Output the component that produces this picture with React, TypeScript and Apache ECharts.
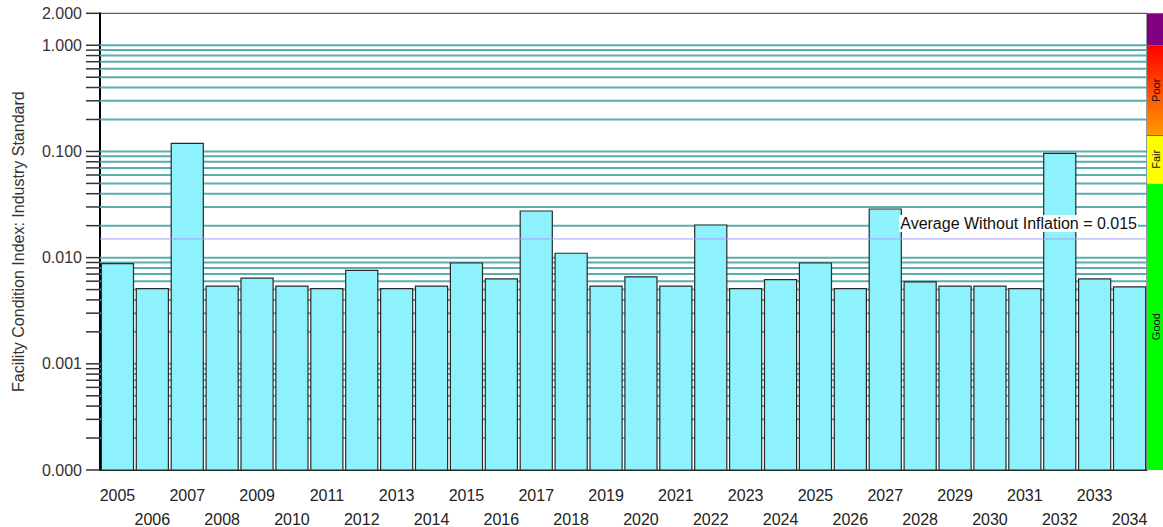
import React, { useEffect, useRef } from 'react';
import * as echarts from 'echarts';

const years = ['2005', '2006', '2007', '2008', '2009', '2010', '2011', '2012', '2013', '2014', '2015', '2016', '2017', '2018', '2019', '2020', '2021', '2022', '2023', '2024', '2025', '2026', '2027', '2028', '2029', '2030', '2031', '2032', '2033', '2034'];
const fciValues = [0.0088, 0.0051, 0.119, 0.0054, 0.0064, 0.0054, 0.0051, 0.0076, 0.0051, 0.0054, 0.0089, 0.0063, 0.0275, 0.011, 0.0054, 0.0066, 0.0054, 0.0203, 0.0051, 0.0062, 0.0089, 0.0051, 0.0287, 0.0059, 0.0054, 0.0054, 0.0051, 0.096, 0.0063, 0.0053];
const averageWithoutInflation = 0.015;
const averageLabel = 'Average Without Inflation = 0.015';
const yMin = 0.0001;
const yMax = 2;
const tickValues = [
  0.0001, 0.0002, 0.0003, 0.0004, 0.0005, 0.0006, 0.0007, 0.0008, 0.0009,
  0.001, 0.002, 0.003, 0.004, 0.005, 0.006, 0.007, 0.008, 0.009,
  0.01, 0.02, 0.03, 0.04, 0.05, 0.06, 0.07, 0.08, 0.09,
  0.1, 0.2, 0.3, 0.4, 0.5, 0.6, 0.7, 0.8, 0.9,
  1, 2,
];
const bandNames = ['Good', 'Fair', 'Poor', ''];
const bandLow = [0.0001, 0.05, 0.142, 1];
const bandHigh = [0.05, 0.142, 1, 2];

const FONT = '"Liberation Sans", Arial, sans-serif';

export default function App() {
  const ref = useRef<HTMLDivElement>(null);
  useEffect(() => {
    if (!ref.current) return;
    const chart = echarts.init(ref.current, null, { renderer: 'svg' });
    const bandFills: any[] = [
      '#00ff00',
      '#ffff00',
      new echarts.graphic.LinearGradient(0, 0, 0, 1, [
        { offset: 0, color: '#ff0000' },
        { offset: 1, color: '#ff9a00' },
      ]),
      '#800080',
    ];
    const option: any = {
      animation: false,
      backgroundColor: '#ffffff',
      textStyle: { fontFamily: FONT },
      grid: [
        { left: 100, right: 16, top: 13.3, bottom: 57, outerBoundsMode: 'none', containLabel: false, show: true, borderColor: '#333', borderWidth: 1, backgroundColor: 'transparent' },
        { left: 1147, width: 16, top: 13.3, bottom: 57, outerBoundsMode: 'none', containLabel: false, show: false },
      ],
      xAxis: [
        {
          type: 'category',
          gridIndex: 0,
          data: years,
          axisTick: { show: false },
          axisLine: { show: true, lineStyle: { color: '#222', width: 1 } },
          axisLabel: {
            interval: 0,
            color: '#222',
            fontSize: 16,
            fontFamily: FONT,
            lineHeight: 24,
            margin: 13,
            formatter: (v: string, i: number) => (i % 2 === 0 ? v : '\n' + v),
          },
          splitLine: { show: false },
        },
        { type: 'category', gridIndex: 1, data: ['band'], show: false },
      ],
      yAxis: [
        {
          type: 'log',
          gridIndex: 0,
          logBase: 10,
          min: yMin,
          max: yMax,
          name: 'Facility Condition Index: Industry Standard',
          nameLocation: 'middle',
          nameGap: 74,
          nameTextStyle: { fontSize: 16, color: '#333', fontFamily: FONT },
          axisLine: { show: true, lineStyle: { color: '#000', width: 2 } },
          axisTick: { show: false },
          splitLine: { show: false },
          axisLabel: {
            color: '#333',
            fontSize: 16,
            fontFamily: FONT,
            margin: 18,
            showMaxLabel: true,
            showMinLabel: true,
            formatter: (v: number) => Number(v).toFixed(3),
          },
        },
        { type: 'log', gridIndex: 1, min: yMin, max: yMax, show: false },
      ],
      series: [
        {
          type: 'custom',
          name: 'grid',
          xAxisIndex: 0,
          yAxisIndex: 0,
          z: 1,
          silent: true,
          clip: false,
          encode: { x: 0, y: 1 },
          data: tickValues.map((v) => [0, v]),
          renderItem: (params: any, api: any) => {
            const cs = params.coordSys;
            const v = api.value(1);
            const y = api.coord([0, v])[1];
            const children: any[] = [];
            if (v > yMin && v < yMax) {
              children.push({
                type: 'line',
                shape: { x1: cs.x, y1: y, x2: cs.x + cs.width, y2: y },
                style: { stroke: '#5aaeae', lineWidth: 2 },
              });
            }
            children.push({
              type: 'line',
              shape: { x1: cs.x - 14, y1: y, x2: cs.x, y2: y },
              style: { stroke: '#333', lineWidth: 1.5 },
            });
            return { type: 'group', children };
          },
        },
        {
          type: 'custom',
          name: 'FCI',
          xAxisIndex: 0,
          yAxisIndex: 0,
          z: 2,
          silent: true,
          encode: { x: 0, y: 1 },
          data: fciValues.map((v, i) => [i, v]),
          renderItem: (params: any, api: any) => {
            const cs = params.coordSys;
            const idx = api.value(0);
            const top = api.coord([idx, api.value(1)]);
            const base = api.coord([idx, yMin]);
            const w = (cs.width / years.length) * 0.92;
            return {
              type: 'rect',
              shape: { x: top[0] - w / 2, y: top[1], width: w, height: base[1] - top[1] },
              style: { fill: '#8ef2fd', stroke: '#2a2a2a', lineWidth: 1.2 },
            };
          },
        },
        {
          type: 'custom',
          name: 'average',
          xAxisIndex: 0,
          yAxisIndex: 0,
          z: 3,
          silent: true,
          encode: { x: 0, y: 1 },
          data: [[0, averageWithoutInflation]],
          renderItem: (params: any, api: any) => {
            const cs = params.coordSys;
            const y = api.coord([0, api.value(1)])[1];
            return {
              type: 'group',
              children: [
                {
                  type: 'line',
                  shape: { x1: cs.x, y1: y, x2: cs.x + cs.width, y2: y },
                  style: { stroke: '#a0a0ff', lineWidth: 1 },
                },
                {
                  type: 'text',
                  x: cs.x + cs.width - 9,
                  y: y - 7,
                  style: {
                    text: averageLabel,
                    fill: '#111',
                    font: '16px ' + FONT,
                    align: 'right',
                    verticalAlign: 'bottom',
                    backgroundColor: '#ffffff',
                    padding: [1, 1, 0, 1],
                  },
                },
              ],
            };
          },
        },
        {
          type: 'custom',
          name: 'bands',
          xAxisIndex: 1,
          yAxisIndex: 1,
          silent: true,
          clip: false,
          encode: { x: 0, y: [1, 2] },
          data: bandLow.map((lo, i) => [0, lo, bandHigh[i]]),
          renderItem: (params: any, api: any) => {
            const cs = params.coordSys;
            const i = params.dataIndex;
            const yLo = api.coord([0, api.value(1)])[1];
            const yHi = api.coord([0, api.value(2)])[1];
            const children: any[] = [
              {
                type: 'rect',
                shape: { x: cs.x, y: yHi, width: cs.width, height: yLo - yHi },
                style: { fill: bandFills[i] },
              },
            ];
            if (bandNames[i] === 'Fair') {
              children.push({
                type: 'line',
                shape: { x1: cs.x, y1: yHi, x2: cs.x + cs.width, y2: yHi },
                style: { stroke: '#333', lineWidth: 1 },
              });
            }
            if (bandNames[i]) {
              children.push({
                type: 'text',
                x: cs.x + 9,
                y: (yLo + yHi) / 2,
                rotation: Math.PI / 2,
                style: {
                  text: bandNames[i],
                  fill: '#111',
                  font: '11px ' + FONT,
                  align: 'center',
                  verticalAlign: 'middle',
                },
              });
            }
            return { type: 'group', children };
          },
        },
      ],
    };
    chart.setOption(option);
    return () => chart.dispose();
  }, []);
  return (
    <div
      ref={ref}
      style={{ position: 'fixed', left: 0, top: 0, width: '1163px', height: '527px', background: '#fff' }}
    />
  );
}
